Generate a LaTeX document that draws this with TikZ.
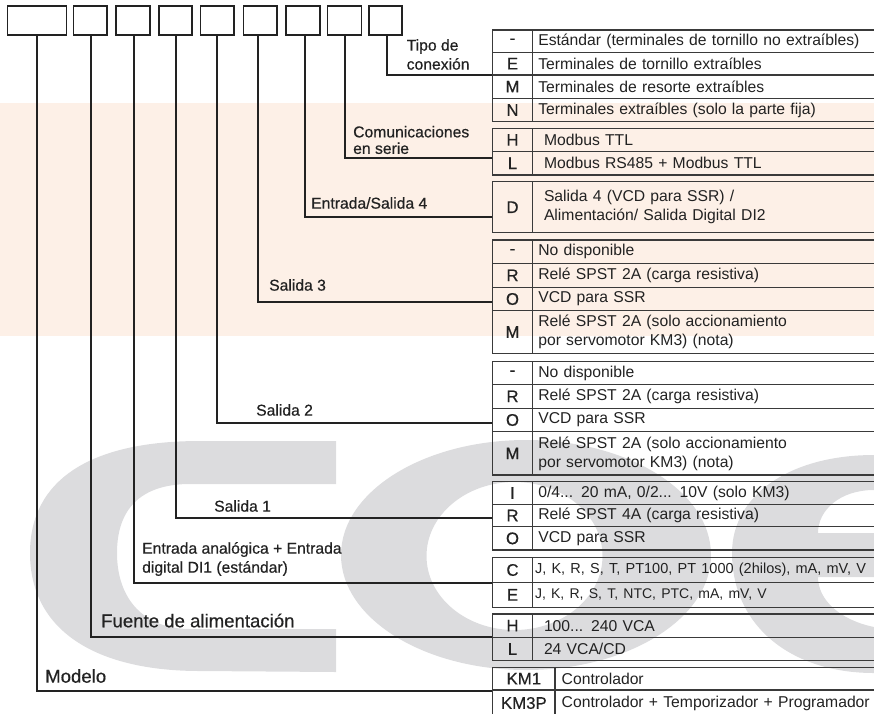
\documentclass[tikz,border=0pt]{standalone}
\usepackage{fontspec}
\setmainfont{Liberation Sans}
\newfontfamily\medf[FakeBold=0.5]{Liberation Sans}
\definecolor{ink}{HTML}{222222}
\definecolor{rulec}{HTML}{3A3A3A}
\definecolor{band}{HTML}{FDF0E7}
\definecolor{logo}{HTML}{DCDCDE}
\tikzset{
  topbox/.style={draw=ink,line width=1.8pt,fill=white,inner sep=0pt,outer sep=0pt,anchor=north west,minimum height=29pt},
  link/.style={draw=ink,line width=1.7pt},
  lcell/.style={draw=rulec,line width=1.1pt,inner sep=0pt,outer sep=0pt,anchor=north west,text=ink,font=\fontsize{16.8}{18}\medf\selectfont,minimum width=39.6pt},
  tcell/.style={draw=rulec,line width=1.1pt,inner ysep=0pt,outer sep=0pt,anchor=north west,text=ink,font=\fontsize{15.7}{19}\selectfont,align=left},
  lab/.style={anchor=west,inner sep=0pt,text=ink,align=left,font=\fontsize{15.7}{19}\medf\selectfont},
}
% \tabrow{id}{ytop}{ybottom}{letter}{text-inset}{text}
\newcommand{\tabrow}[6]{%
  \node[lcell,minimum height={(#3-#2)*1pt}] (l#1) at (492.7,#2) {#4};
  \node[tcell,minimum height={(#3-#2)*1pt},inner xsep=#5pt,text width={(344-2*#5)*1pt}] (r#1) at (532.3,#2) {#6};
}
\begin{document}
\begin{tikzpicture}[x=1pt,y=-1pt]
\useasboundingbox (0,0) rectangle (874,713);
\fill[band] (0,103) rectangle (874,336);
% logo
\fill[logo] (336,441) -- (200,441) .. controls (90,441) and (30,480) .. (30,553) .. controls (30,630) and (95,671) .. (200,671) -- (336,672) -- (336,629) -- (190,629) .. controls (145,629) and (117,600) .. (117,553) .. controls (117,505) and (145,484) .. (190,484) -- (336,484) -- cycle;
\fill[logo,even odd rule] (526,555) ellipse [x radius=185,y radius=115] (514.5,556) ellipse [x radius=88,y radius=74];
\fill[logo] (874,455) .. controls (790,455) and (732,495) .. (732,553) .. controls (732,625) and (790,673) .. (874,673) -- (874,627) .. controls (840,620) and (818,600) .. (818,577) -- (874,577) -- (874,533) -- (818,533) .. controls (818,510) and (840,490) .. (874,490) -- cycle;
% top boxes
\node[topbox,minimum width=59pt] (b1) at (7.5,6) {};
\node[topbox,minimum width=33.5pt] (b2) at (73.5,6) {};
\node[topbox,minimum width=34pt] (b3) at (116,6) {};
\node[topbox,minimum width=33pt] (b4) at (159,6) {};
\node[topbox,minimum width=33.5pt] (b5) at (200.5,6) {};
\node[topbox,minimum width=33.5pt] (b6) at (243.5,6) {};
\node[topbox,minimum width=34pt] (b7) at (286,6) {};
\node[topbox,minimum width=34pt] (b8) at (327.5,6) {};
\node[topbox,minimum width=33pt] (b9) at (369,6) {};
% entry points of the tables
\coordinate (in1) at (492.7,691);
\coordinate (in2) at (492.7,637);
\coordinate (in3) at (492.7,583);
\coordinate (in4) at (492.7,518);
\coordinate (in5) at (492.7,423);
\coordinate (in6) at (492.7,302);
\coordinate (in7) at (492.7,217);
\coordinate (in8) at (492.7,158);
\coordinate (in9) at (492.7,75);
% connectors
\draw[link] (b1.south) |- (in1);
\draw[link] ([xshift=0.75pt]b2.south) |- (in2);
\draw[link] ([xshift=1pt]b3.south) |- (in3);
\draw[link] ([xshift=0.5pt]b4.south) |- (in4);
\draw[link] ([xshift=-0.25pt]b5.south) |- (in5);
\draw[link] ([xshift=-2pt]b6.south) |- (in6);
\draw[link] ([xshift=2pt]b7.south) |- (in7);
\draw[link] ([xshift=0.5pt]b8.south) |- (in8);
\draw[link] ([xshift=1.5pt]b9.south) |- (in9);
% labels
\node[lab] (t9) at (406.5,54.5) {Tipo de\\conexión};
\node[lab,font=\fontsize{15.7}{16.5}\medf\selectfont] (t8) at (353,140) {Comunicaciones\\en serie};
\node[lab] (t7) at (311,203) {Entrada/Salida 4};
\node[lab] (t6) at (269,285) {Salida 3};
\node[lab] (t5) at (256,410) {Salida 2};
\node[lab] (t4) at (214,506) {Salida 1};
\node[lab] (t3) at (142,559) {Entrada analógica + Entrada\\digital DI1 (estándar)};
\node[lab,font=\fontsize{18.6}{20}\medf\selectfont] (t2) at (101,620.5) {Fuente de alimentación};
\node[lab,font=\fontsize{18.6}{20}\medf\selectfont] (t1) at (45,676) {Modelo};
% tables
\tabrow{a1}{30}{52.3}{-}{6}{Estándar (terminales de tornillo no extraíbles)}
\tabrow{a2}{52.3}{75}{E}{6}{Terminales de tornillo extraíbles}
\tabrow{a3}{75}{98.3}{M}{6}{Terminales de resorte extraíbles}
\tabrow{a4}{98.3}{121.7}{N}{6}{Terminales extraíbles (solo la parte fija)}
\tabrow{b1}{128.3}{151.5}{H}{11.7}{Modbus TTL}
\tabrow{b2}{151.5}{175}{L}{11.7}{Modbus RS485 + Modbus TTL}
\tabrow{c1}{181.7}{232.7}{D}{11.7}{Salida 4 (VCD para SSR) /\\Alimentación/ Salida Digital DI2}
\tabrow{d1}{240}{263.3}{-}{6}{No disponible}
\tabrow{d2}{263.3}{287.3}{R}{6}{Relé SPST 2A (carga resistiva)}
\tabrow{d3}{287.3}{310.7}{O}{6}{VCD para SSR}
\tabrow{d4}{310.7}{353.3}{M}{6}{Relé SPST 2A (solo accionamiento\\por servomotor KM3) (nota)}
\tabrow{e1}{361.7}{384.3}{-}{6}{No disponible}
\tabrow{e2}{384.3}{408.3}{R}{6}{Relé SPST 2A (carga resistiva)}
\tabrow{e3}{408.3}{431.7}{O}{6}{VCD para SSR}
\tabrow{e4}{431.7}{475}{M}{6}{Relé SPST 2A (solo accionamiento\\por servomotor KM3) (nota)}
\tabrow{f1}{481.7}{504.3}{I}{6}{0/4... 20 mA, 0/2... 10V (solo KM3)}
\tabrow{f2}{504.3}{526.7}{R}{6}{Relé SPST 4A (carga resistiva)}
\tabrow{f3}{526.7}{550}{O}{6}{VCD para SSR}
\tabrow{g1}{557.7}{582.3}{C}{2.7}{\fontsize{14.5}{19}\selectfont J, K, R, S, T, PT100, PT 1000 (2hilos), mA, mV, V}
\tabrow{g2}{582.3}{607.3}{E}{2.7}{\fontsize{14}{19}\selectfont J, K, R, S, T, NTC, PTC, mA, mV, V}
\tabrow{h1}{614}{637.3}{H}{11.7}{100... 240 VCA}
\tabrow{h2}{637.3}{660.7}{L}{11.7}{24 VCA/CD}
\node[lcell,minimum width=62.3pt,minimum height=22.7pt] (lk1) at (492.7,667.3) {KM1};
\node[tcell,minimum height=22.7pt,inner xsep=6.7pt,text width=310pt] (rk1) at (555,667.3) {Controlador};
\node[lcell,minimum width=62.3pt,minimum height=26pt] (lk2) at (492.7,690) {KM3P};
\node[tcell,minimum height=26pt,inner xsep=6.7pt,text width=310pt] (rk2) at (555,690) {Controlador + Temporizador + Programador};
\end{tikzpicture}
\end{document}
